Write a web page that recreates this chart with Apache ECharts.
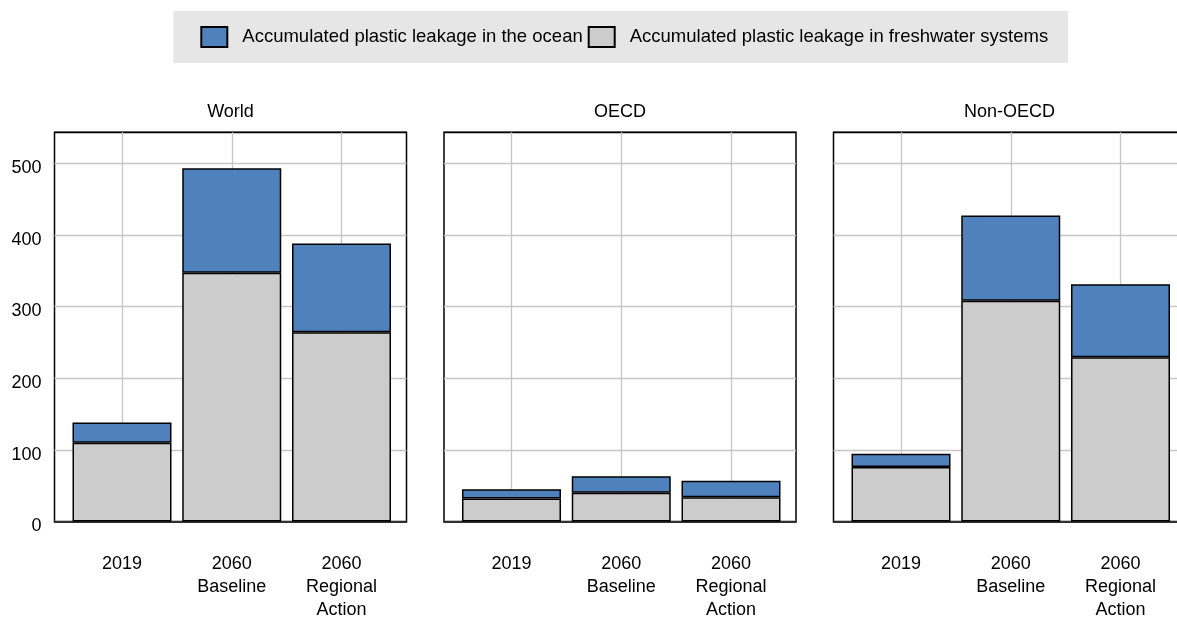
<!DOCTYPE html>
<html>
<head>
<meta charset="utf-8">
<script src="https://cdn.jsdelivr.net/npm/echarts@6.0.0/dist/echarts.min.js"></script>
<style>
html,body{margin:0;padding:0;background:#fff;}
#chart{width:1177px;height:620px;}
</style>
</head>
<body>
<div id="chart"></div>
<script>
// ---- data ----
const categories = ['2019', '2060\nBaseline', '2060\nRegional\nAction'];
const panels = ['World', 'OECD', 'Non-OECD'];
const seriesNames = ['Accumulated plastic leakage in the ocean', 'Accumulated plastic leakage in freshwater systems'];
const worldFresh = [110, 347, 264];
const worldOcean = [28, 146, 124];
const oecdFresh = [32, 40, 34];
const oecdOcean = [13, 23, 23];
const nonOecdFresh = [76, 308, 229];
const nonOecdOcean = [18.5, 119, 102];
const yMin = 0, yMax = 543, yInterval = 100;

// ---- layout ----
const FONT = "'Liberation Sans', Arial, sans-serif";
const panelLeft = [54.5, 444, 833.5];
const panelWidth = 352;
const gridTop = 132.3, gridHeight = 389.2;
const catOffset = 67.5, catWidth = 219.5;
const OCEAN = '#4f81bd', FRESH = '#cccccc';
const GRIDC = '#c6c6c6';

const freshData = [worldFresh, oecdFresh, nonOecdFresh];
const oceanData = [worldOcean, oecdOcean, nonOecdOcean];

const grid = [], xAxis = [], yAxis = [], series = [], title = [];
panels.forEach((p, i) => {
  grid.push({left: panelLeft[i], top: gridTop, width: panelWidth, height: gridHeight,
    show: true, borderColor: '#000', borderWidth: 1.5, backgroundColor: 'transparent',
    containLabel: false, outerBoundsMode: 'none'});
  grid.push({left: panelLeft[i] + catOffset, top: gridTop, width: catWidth, height: gridHeight,
    containLabel: false, outerBoundsMode: 'none'});
  const ga = 2 * i, gb = 2 * i + 1;
  xAxis.push({gridIndex: ga, type: 'value', min: 0, max: 1, position: 'bottom', z: 10,
    axisLine: {show: true, onZero: false, lineStyle: {color: '#000', width: 1.6}},
    axisTick: {show: false}, axisLabel: {show: false}, splitLine: {show: false}});
  xAxis.push({gridIndex: gb, type: 'category', data: categories, boundaryGap: false,
    axisLine: {show: false}, axisTick: {show: false},
    splitLine: {show: true, lineStyle: {color: GRIDC, width: 1.3}},
    axisLabel: {interval: 0, margin: 31, fontSize: 18, fontFamily: FONT, color: '#000', lineHeight: 23, align: 'center'}});
  yAxis.push({gridIndex: ga, type: 'value', min: yMin, max: yMax, interval: yInterval,
    axisLine: {show: false}, axisTick: {show: false},
    splitLine: {show: true, lineStyle: {color: [GRIDC, GRIDC, GRIDC, GRIDC, GRIDC, GRIDC, '#000'], width: 1.3}},
    axisLabel: {show: i === 0, showMaxLabel: false, margin: 13, fontSize: 18, fontFamily: FONT, color: '#000',
      verticalAlign: 'top', lineHeight: 10}});
  yAxis.push({gridIndex: gb, type: 'value', min: yMin, max: yMax, interval: yInterval, show: false, splitLine: {show: false}});
  series.push({name: seriesNames[1], type: 'bar', xAxisIndex: gb, yAxisIndex: gb, stack: 's' + i,
    data: freshData[i], barWidth: 99, itemStyle: {color: FRESH, borderColor: '#000', borderWidth: 1.5}});
  series.push({name: seriesNames[0], type: 'bar', xAxisIndex: gb, yAxisIndex: gb, stack: 's' + i,
    data: oceanData[i], barWidth: 99, itemStyle: {color: OCEAN, borderColor: '#000', borderWidth: 1.5}});
  title.push({text: p, left: panelLeft[i] + panelWidth / 2, top: 101, textAlign: 'center', padding: 0,
    textStyle: {fontSize: 18, fontWeight: 'normal', fontFamily: FONT, color: '#000', lineHeight: 22}});
});

const chart = echarts.init(document.getElementById('chart'), null, {renderer: 'canvas'});
chart.setOption({
  animation: false,
  backgroundColor: '#fff',
  title: title,
  legend: {
    data: seriesNames, left: 173.3, top: 11, orient: 'horizontal',
    backgroundColor: '#e6e6e6', padding: [15, 20, 15, 27],
    itemWidth: 26, itemHeight: 20, itemGap: 5, icon: 'rect',
    textStyle: {fontSize: 18.5, fontFamily: FONT, color: '#000', padding: [0, 0, 0, 10]}
  },
  grid: grid, xAxis: xAxis, yAxis: yAxis, series: series
});
</script>
</body>
</html>
